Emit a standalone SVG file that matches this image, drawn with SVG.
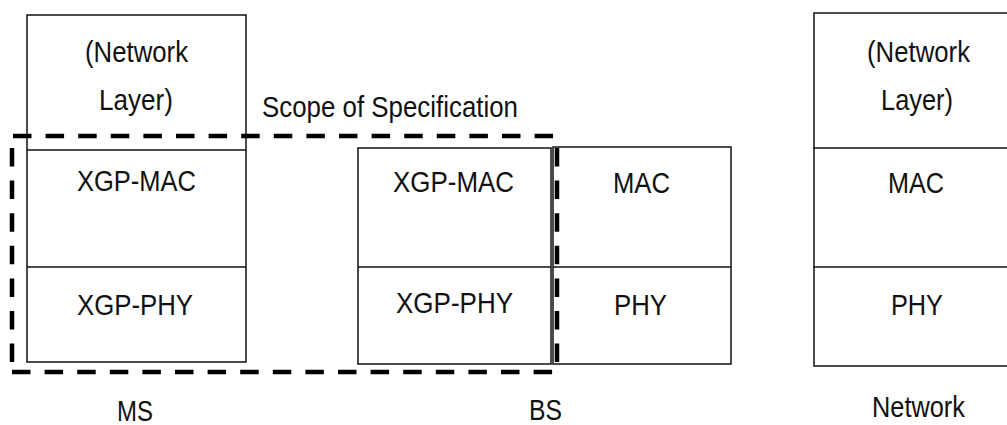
<svg xmlns="http://www.w3.org/2000/svg" width="1007" height="425" viewBox="0 0 1007 425">
<style>
.box{fill:#fff;stroke:#111;stroke-width:1.5}
.sep{stroke:#111;stroke-width:1.5}
.dash{fill:none;stroke:#000;stroke-width:4.5;stroke-dasharray:18.5 14.1}
text{font-family:"Liberation Sans",Arial,sans-serif;font-size:29px;fill:#111}
</style>
<rect width="1007" height="425" fill="#fff"/>
<g id="ms">
<rect class="box" x="27" y="15" width="219" height="347"/>
<line class="sep" x1="27" y1="150" x2="246" y2="150"/>
<line class="sep" x1="27" y1="267" x2="246" y2="267"/>
<text x="85" y="62" textLength="103" lengthAdjust="spacingAndGlyphs">(Network</text>
<text x="99" y="110" textLength="74" lengthAdjust="spacingAndGlyphs">Layer)</text>
<text x="77" y="191" textLength="119" lengthAdjust="spacingAndGlyphs">XGP-MAC</text>
<text x="77" y="315" textLength="116" lengthAdjust="spacingAndGlyphs">XGP-PHY</text>
<text x="117" y="421" textLength="36" lengthAdjust="spacingAndGlyphs">MS</text>
</g>
<g id="bs">
<rect class="box" x="358" y="148" width="193" height="216"/>
<line class="sep" x1="358" y1="267" x2="551" y2="267"/>
<text x="393" y="192" textLength="121" lengthAdjust="spacingAndGlyphs">XGP-MAC</text>
<text x="396" y="313" textLength="117" lengthAdjust="spacingAndGlyphs">XGP-PHY</text>
<text x="529" y="420" textLength="33" lengthAdjust="spacingAndGlyphs">BS</text>
</g>
<g id="bs-legacy">
<rect class="box" x="553" y="147" width="178" height="217"/>
<line class="sep" x1="553" y1="267" x2="731" y2="267"/>
<text x="613" y="193" textLength="57" lengthAdjust="spacingAndGlyphs">MAC</text>
<text x="614" y="315" textLength="53" lengthAdjust="spacingAndGlyphs">PHY</text>
</g>
<g id="network">
<rect class="box" x="814" y="13" width="210" height="353"/>
<line class="sep" x1="813" y1="148" x2="1024" y2="148"/>
<line class="sep" x1="813" y1="267" x2="1024" y2="267"/>
<text x="867" y="62" textLength="103" lengthAdjust="spacingAndGlyphs">(Network</text>
<text x="881" y="110" textLength="72" lengthAdjust="spacingAndGlyphs">Layer)</text>
<text x="888" y="193" textLength="56" lengthAdjust="spacingAndGlyphs">MAC</text>
<text x="891" y="315" textLength="52" lengthAdjust="spacingAndGlyphs">PHY</text>
<text x="872" y="417" textLength="93" lengthAdjust="spacingAndGlyphs">Network</text>
</g>
<g id="scope">
<line class="dash" x1="13" y1="136" x2="556" y2="136"/>
<line class="dash" x1="12" y1="148" x2="12" y2="363"/>
<line class="dash" x1="12" y1="372" x2="554" y2="372"/>
<line class="dash" x1="557" y1="148" x2="557" y2="364"/>
<text x="262" y="117" textLength="256" lengthAdjust="spacingAndGlyphs">Scope of Specification</text>
</g>
</svg>
